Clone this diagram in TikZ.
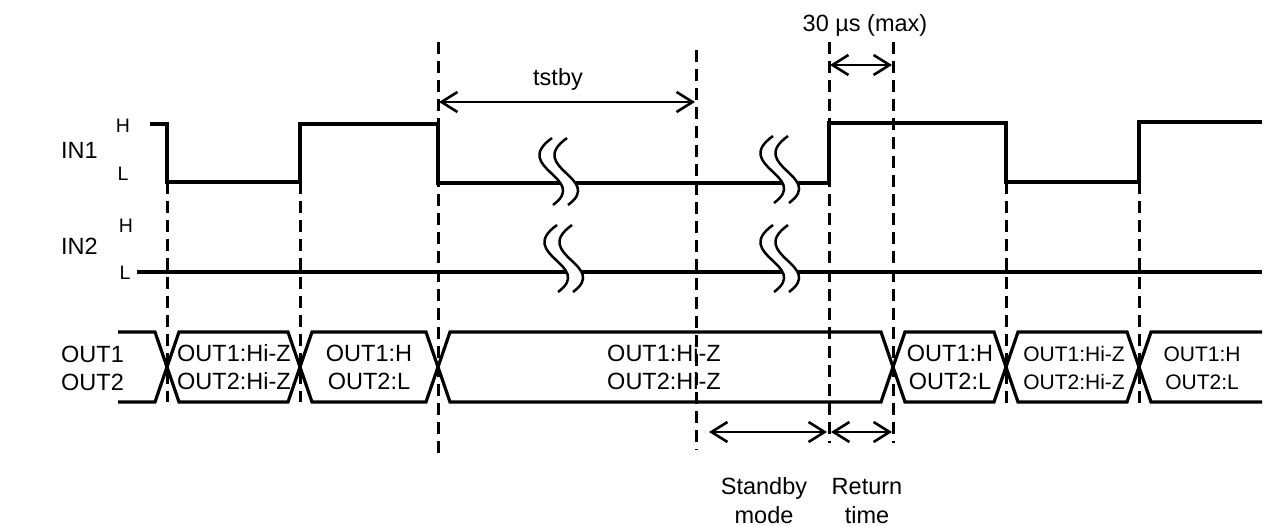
\documentclass[tikz,border=0pt]{standalone}
\usepackage{fontspec}
\setmainfont{Liberation Sans}
\usetikzlibrary{arrows.meta}
\begin{document}
\begin{tikzpicture}[x=1pt,y=-1pt]
\tikzset{
  sig/.style={line width=3.2pt, line join=miter},
  guide/.style={line width=3pt, dash pattern=on 12pt off 7pt},
  brk/.style={line width=2.5pt},
  dimarrow/.style={line width=2.6pt,
    {Straight Barb[length=16pt,width=20pt,line width=2.6pt]}-{Straight Barb[length=16pt,width=20pt,line width=2.6pt]}},
  lbl/.style={font=\fontsize{23.5}{28}\selectfont, inner sep=0pt},
  smalllbl/.style={font=\fontsize{21}{25}\selectfont, inner sep=0pt},
  lvl/.style={font=\fontsize{19.5}{22}\selectfont, inner sep=0pt},
}
\useasboundingbox (0,0) rectangle (1264,526);
\fill[white] (0,0) rectangle (1264,526);

% dashed guide lines
\foreach \n/\x/\ya/\yb in {g1/167/182/402, g2/300/182/402, g3/438/42/457, g4/696/50/450,
                            g5/829/42/443, g6/893/42/443, g7/1006/182/405, g8/1139/182/405} {
  \coordinate (\n t) at (\x,\ya);
  \coordinate (\n b) at (\x,\yb);
  \draw[guide] (\n t) -- (\n b);
}

% OUT bus
\def\bt{332}\def\bb{402}\def\bm{367}\def\w{12}
\draw[sig] (118,\bt) -- (167-\w,\bt) -- (167,\bm) -- (167-\w,\bb) -- (118,\bb);
\foreach \a/\b in {167/300, 300/438, 438/893, 893/1006, 1006/1139} {
  \draw[sig] (\a,\bm) -- (\a+\w,\bt) -- (\b-\w,\bt) -- (\b,\bm) -- (\b-\w,\bb) -- (\a+\w,\bb) -- cycle;
}
\draw[sig] (1262,\bt) -- (1139+\w,\bt) -- (1139,\bm) -- (1139+\w,\bb) -- (1262,\bb);

% IN1 waveform
\draw[sig] (150,124) -- (167,124) -- (167,182) -- (300,182) -- (300,124) -- (438,124)
  -- (438,183) -- (829,183) -- (829,123) -- (1006,123) -- (1006,182) -- (1139,182)
  -- (1139,122) -- (1262,122);
% IN2 waveform
\draw[sig] (137,272) -- (1262,272);

% break marks
\foreach \bx/\by in {552/138, 773/136, 557/225, 773/225} {
  \fill[white] (\bx,\by) .. controls (\bx-42,\by+30) and (\bx+38,\by+40) .. (\bx+1,\by+67)
    -- (\bx+16,\by+67) .. controls (\bx+53,\by+40) and (\bx-27,\by+30) .. (\bx+15,\by) -- cycle;
  \draw[brk] (\bx,\by) .. controls (\bx-42,\by+30) and (\bx+38,\by+40) .. (\bx+1,\by+67);
  \draw[brk] (\bx+15,\by) .. controls (\bx-27,\by+30) and (\bx+53,\by+40) .. (\bx+16,\by+67);
}

% dimension arrows
\coordinate (tsA) at (439,102); \coordinate (tsB) at (695,102);
\draw[dimarrow] (tsA) -- (tsB);
\coordinate (muA) at (830,65); \coordinate (muB) at (892,65);
\draw[dimarrow] (muA) -- (muB);
\coordinate (sbA) at (709,432); \coordinate (sbB) at (827,432);
\draw[dimarrow] (sbA) -- (sbB);
\coordinate (rtA) at (831,432); \coordinate (rtB) at (892,432);
\draw[dimarrow] (rtA) -- (rtB);

% labels
\node[lbl, anchor=west] (in1) at (61,150) {IN1};
\node[lbl, anchor=west] (in2) at (61,246) {IN2};
\node[lbl, anchor=west] (out1) at (61,354) {OUT1};
\node[lbl, anchor=west] (out2) at (61,382) {OUT2};
\node[lvl] (h1) at (123,126) {H};
\node[lvl] (l1) at (123,174) {L};
\node[lvl] (h2) at (126,226) {H};
\node[lvl] (l2) at (125,273) {L};

\node[lbl, anchor=base] (tstby) at (558,86) {tstby};
\node[lbl, anchor=base] (mus) at (865,32) {30 µs (max)};
\node[lbl, anchor=base] (stb1) at (764,494) {Standby};
\node[lbl, anchor=base] (stb2) at (764,523) {mode};
\node[lbl, anchor=base] (ret1) at (867,494) {Return};
\node[lbl, anchor=base] (ret2) at (867,523) {time};

% bus contents
\foreach \n/\x/\ta/\tb/\st in {s2/234/OUT1:Hi-Z/OUT2:Hi-Z/lbl, s3/369/OUT1:H/OUT2:L/lbl,
    s4/664/OUT1:Hi-Z/OUT2:Hi-Z/lbl, s5/950/OUT1:H/OUT2:L/lbl,
    s6/1074/OUT1:Hi-Z/OUT2:Hi-Z/smalllbl, s7/1202/OUT1:H/OUT2:L/smalllbl} {
  \node[\st, anchor=base] (\n a) at (\x,362) {\ta};
  \node[\st, anchor=base] (\n b) at (\x,390) {\tb};
}
\end{tikzpicture}
\end{document}
